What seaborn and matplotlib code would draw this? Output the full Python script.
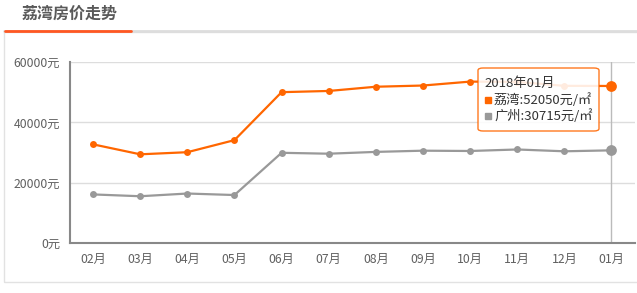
import matplotlib
matplotlib.use("Agg")
import matplotlib.pyplot as plt
import seaborn as sns
import pandas as pd
from matplotlib.patches import FancyBboxPatch, Rectangle
from matplotlib.lines import Line2D

months = ["02月", "03月", "04月", "05月", "06月", "07月", "08月", "09月", "10月", "11月", "12月", "01月"]
liwan = [32700, 29400, 30100, 34100, 50000, 50400, 51800, 52200, 53500, 53400, 52100, 52050]
guangzhou = [16100, 15500, 16400, 15900, 29900, 29600, 30200, 30600, 30500, 31000, 30400, 30715]
yticks = [0, 20000, 40000, 60000]
ytick_labels = ["0元", "20000元", "40000元", "60000元"]
title = "荔湾房价走势"
tip_title = "2018年01月"
tip_lines = ["荔湾:52050元/㎡", "广州:30715元/㎡"]

ORANGE = "#ff6600"
GRAY = "#999999"
TXT = "#606060"

sns.set_theme(style="white")
plt.rcParams['font.family'] = ['Noto Sans CJK SC', 'DejaVu Sans']

W, H = 637, 293
fig = plt.figure(figsize=(W / 100, H / 100), dpi=100)

def fx(px):
    return px / W

def fy(py):
    return 1 - py / H

# Outer frame and title
fig.patches.append(Rectangle((fx(4), fy(282)), fx(640) - fx(4), fy(32) - fy(282),
                             transform=fig.transFigure, fill=False, edgecolor="#e2e2e2", lw=1))
fig.add_artist(Line2D([fx(4), fx(637)], [fy(30.5), fy(30.5)], transform=fig.transFigure,
                      color="#dddddd", lw=2))
fig.add_artist(Line2D([fx(5), fx(131)], [fy(30.5), fy(30.5)], transform=fig.transFigure,
                      color="#ff5722", lw=2))
fig.text(fx(22), fy(14), title, ha="left", va="center", fontsize=11.5, fontweight="bold", color="#5a5a5a")

ax = fig.add_axes([fx(70), fy(243), fx(635) - fx(70), fy(62) - fy(243)])

df = pd.DataFrame({"x": list(range(len(months))) * 2,
                   "price": liwan + guangzhou,
                   "series": ["荔湾"] * len(months) + ["广州"] * len(months)})

sns.lineplot(data=df, x="x", y="price", hue="series", palette={"荔湾": ORANGE, "广州": GRAY},
             marker="o", markersize=5, markeredgewidth=0, linewidth=1.6, legend=False, ax=ax,
             zorder=3)

n = len(months)
ax.scatter([n - 1], [liwan[-1]], s=60, color=ORANGE, zorder=5, linewidths=0)
ax.scatter([n - 1], [guangzhou[-1]], s=60, color=GRAY, zorder=5, linewidths=0)
ax.axvline(n - 1, color="#bbbbbb", lw=1, zorder=1)

ax.set_xlim(-0.49, 11.5)
ax.set_ylim(0, 60000)
ax.set_yticks(yticks)
ax.set_yticklabels(ytick_labels)
ax.set_xticks(range(n))
ax.set_xticklabels(months)
ax.set_xlabel("")
ax.set_ylabel("")
ax.grid(axis="y", color="#dddddd", lw=1)
ax.set_axisbelow(True)
for s in ["top", "right"]:
    ax.spines[s].set_visible(False)
for s in ["left", "bottom"]:
    ax.spines[s].set_color("#888888")
    ax.spines[s].set_linewidth(1.5)
ax.tick_params(axis="y", length=0, pad=7, labelsize=8.8, labelcolor=TXT)
ax.tick_params(axis="x", length=4, width=1, color="#bbbbbb", pad=3, labelsize=8.8, labelcolor=TXT)

# Tooltip
tip = FancyBboxPatch((fx(478), fy(131)), fx(599) - fx(478), fy(68) - fy(131),
                     boxstyle="round,pad=0,rounding_size=0.008", transform=fig.transFigure,
                     facecolor="white", alpha=0.88, edgecolor=ORANGE, lw=1, zorder=10)
fig.patches.append(tip)
fig.text(fx(484), fy(83), tip_title, ha="left", va="center", fontsize=9.5, color="#333333", zorder=11)
for i, (t, c) in enumerate(zip(tip_lines, [ORANGE, GRAY])):
    yy = 100 + i * 16
    fig.patches.append(Rectangle((fx(485), fy(yy + 3)), fx(6), fy(0) - fy(6),
                                 transform=fig.transFigure, color=c, zorder=11))
    fig.text(fx(494), fy(yy), t, ha="left", va="center", fontsize=9.5, color="#333333", zorder=11)

fig.savefig("out.png", dpi=100, facecolor="white")
